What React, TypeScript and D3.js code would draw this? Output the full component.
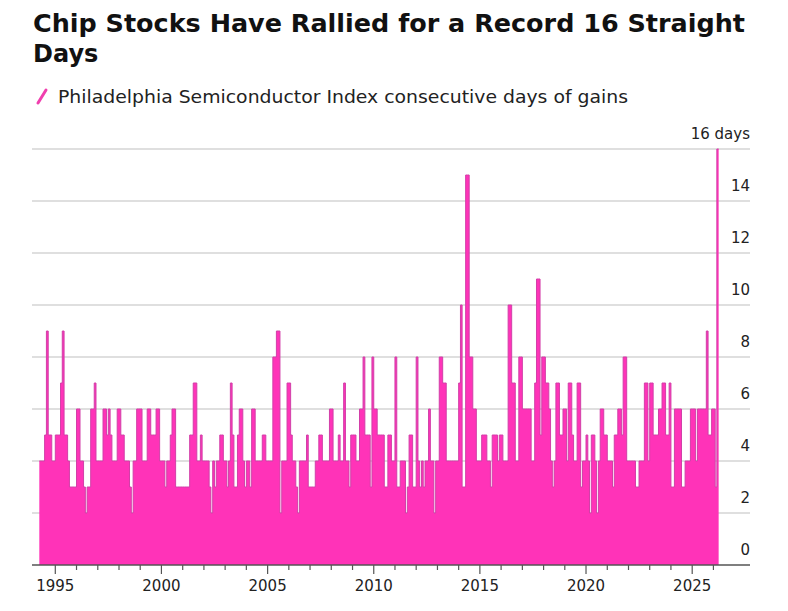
import { useEffect, useRef } from "react";
import * as d3 from "d3";

// longest run of up-days per month, SOX index, from Apr 1994
const firstMonth = new Date(1994, 3, 1);
const streakDays = [
  4, 4, 4, 5, 9, 5, 5, 4, 4, // 1994 Apr-Dec
  5, 5, 5, 7, 9, 5, 5, 4, 3, 3, 3, 3, // 1995
  6, 6, 4, 4, 3, 2, 3, 3, 6, 6, 7, 4, // 1996
  4, 4, 4, 6, 6, 5, 6, 5, 4, 4, 4, 6, // 1997
  6, 5, 5, 4, 4, 4, 3, 2, 4, 4, 6, 6, // 1998
  6, 4, 4, 4, 6, 6, 5, 5, 5, 6, 6, 4, // 1999
  4, 4, 3, 4, 4, 5, 6, 6, 3, 3, 3, 3, // 2000
  3, 3, 3, 3, 5, 5, 7, 7, 4, 4, 5, 4, // 2001
  4, 4, 4, 3, 2, 4, 3, 4, 4, 5, 5, 4, // 2002
  4, 3, 4, 7, 5, 3, 3, 5, 6, 6, 4, 3, // 2003
  4, 4, 3, 6, 6, 4, 4, 4, 4, 5, 5, 4, // 2004
  4, 4, 4, 8, 8, 9, 9, 2, 4, 4, 4, 7, // 2005
  7, 5, 4, 4, 3, 2, 4, 4, 4, 4, 5, 3, // 2006
  3, 3, 3, 4, 4, 5, 5, 4, 4, 4, 4, 6, // 2007
  6, 4, 4, 4, 5, 4, 4, 7, 4, 4, 3, 5, // 2008
  5, 5, 4, 4, 6, 6, 8, 5, 5, 5, 3, 8, // 2009
  6, 6, 5, 5, 5, 5, 3, 3, 5, 5, 4, 4, // 2010
  8, 3, 3, 4, 4, 4, 2, 3, 5, 5, 3, 3, // 2011
  8, 4, 3, 4, 3, 4, 4, 6, 4, 4, 2, 4, // 2012
  4, 8, 8, 7, 7, 4, 4, 4, 4, 4, 4, 4, // 2013
  7, 10, 3, 3, 15, 15, 8, 8, 6, 6, 4, 4, // 2014
  4, 5, 5, 5, 4, 4, 3, 5, 5, 5, 4, 5, // 2015
  5, 4, 4, 4, 10, 10, 7, 7, 4, 4, 8, 8, // 2016
  6, 6, 6, 6, 6, 4, 4, 7, 11, 11, 5, 8, // 2017
  8, 7, 7, 6, 4, 3, 4, 7, 7, 5, 5, 6, // 2018
  6, 4, 7, 7, 5, 4, 4, 7, 7, 3, 4, 4, // 2019
  5, 4, 2, 5, 5, 4, 2, 4, 6, 6, 5, 5, // 2020
  4, 4, 4, 3, 5, 5, 6, 6, 5, 8, 8, 4, // 2021
  4, 4, 4, 4, 3, 3, 4, 4, 4, 7, 7, 4, // 2022
  7, 7, 5, 5, 5, 6, 6, 7, 7, 5, 5, 7, // 2023
  3, 3, 6, 6, 6, 6, 3, 3, 4, 4, 4, 6, // 2024
  6, 6, 4, 6, 6, 6, 6, 6, 9, 5, 5, 6, // 2025
  6, 3, 16, // 2026 Jan-Mar
];
const majorYears = [1995, 2000, 2005, 2010, 2015, 2020, 2025];
const dayTicks = [0, 2, 4, 6, 8, 10, 12, 14, 16];

const title = ["Chip Stocks Have Rallied for a Record 16 Straight", "Days"];
const legendLabel = "Philadelphia Semiconductor Index consecutive days of gains";

const W = 788, H = 611;
const font = "'DejaVu Sans', Verdana, sans-serif";

export default function App() {
  const ref = useRef<SVGSVGElement>(null);

  useEffect(() => {
    if (!ref.current) return;
    const svg = d3.select(ref.current);
    svg.selectAll("*").remove();

    const left = 32, right = 750, bottom = 565;
    const x = d3.scaleTime()
      .domain([new Date(1995, 0, 1), new Date(2025, 0, 1)])
      .range([55.3, 692.2]);
    const y = d3.scaleLinear().domain([0, 16]).range([bottom, 149]);

    const pts = streakDays.map((v, i) => ({ date: d3.timeMonth.offset(firstMonth, i), v }));
    pts.push({ date: d3.timeMonth.offset(firstMonth, streakDays.length), v: streakDays[streakDays.length - 1] });

    svg.append("rect").attr("width", W).attr("height", H).attr("fill", "#fff");

    // title + legend
    title.forEach((t, i) => {
      const txt = svg.append("text").attr("x", 33).attr("y", 32 + i * 30)
        .attr("font-family", font).attr("font-weight", "bold").attr("font-size", 24)
        .attr("fill", "#111").text(t);
      if (i === 0) txt.attr("textLength", 712).attr("lengthAdjust", "spacingAndGlyphs");
    });
    svg.append("line").attr("x1", 38).attr("y1", 103).attr("x2", 46).attr("y2", 90)
      .attr("stroke", "#f03fae").attr("stroke-width", 3).attr("stroke-linecap", "round");
    svg.append("text").attr("x", 58).attr("y", 103)
      .attr("font-family", font).attr("font-size", 17).attr("fill", "#222")
      .attr("textLength", 570).attr("lengthAdjust", "spacingAndGlyphs").text(legendLabel);

    // gridlines
    svg.append("g").selectAll("line").data(dayTicks.slice(1)).join("line")
      .attr("x1", left).attr("x2", right).attr("y1", d => y(d)).attr("y2", d => y(d))
      .attr("stroke", "#d4d4d4").attr("stroke-width", 1.5);

    // area
    const area = d3.area<{ date: Date; v: number }>()
      .x(d => x(d.date)).y0(y(0)).y1(d => y(d.v)).curve(d3.curveStepAfter);
    const line = d3.line<{ date: Date; v: number }>()
      .x(d => x(d.date)).y(d => y(d.v)).curve(d3.curveStepAfter);
    svg.append("path").datum(pts).attr("d", area).attr("fill", "#ff33b8");
    svg.append("path").datum(pts).attr("d", line).attr("fill", "none")
      .attr("stroke", "#d23fa8").attr("stroke-width", 1);

    // y labels, sitting above their gridlines
    svg.append("g").selectAll("text").data(dayTicks).join("text")
      .attr("x", right).attr("y", d => y(d) - 10).attr("text-anchor", "end")
      .attr("font-family", font).attr("font-size", 15).attr("fill", "#222")
      .text(d => d === 16 ? "16 days" : d);

    // x axis
    svg.append("line").attr("x1", left).attr("x2", right).attr("y1", bottom).attr("y2", bottom)
      .attr("stroke", "#555").attr("stroke-width", 1.5);
    const years = d3.range(1995, 2027);
    svg.append("g").selectAll("line").data(years).join("line")
      .attr("x1", d => x(new Date(d, 0, 1))).attr("x2", d => x(new Date(d, 0, 1)))
      .attr("y1", bottom).attr("y2", d => majorYears.includes(d) ? bottom + 9 : bottom + 5)
      .attr("stroke", "#555").attr("stroke-width", 1.2);
    svg.append("g").selectAll("text").data(majorYears).join("text")
      .attr("x", d => x(new Date(d, 0, 1))).attr("y", 591).attr("text-anchor", "middle")
      .attr("font-family", font).attr("font-size", 15).attr("fill", "#222")
      .text(d => d);
  }, []);

  return (
    <svg ref={ref} width={W} height={H}
      style={{ position: "absolute", left: 0, top: 0, display: "block" }} />
  );
}
